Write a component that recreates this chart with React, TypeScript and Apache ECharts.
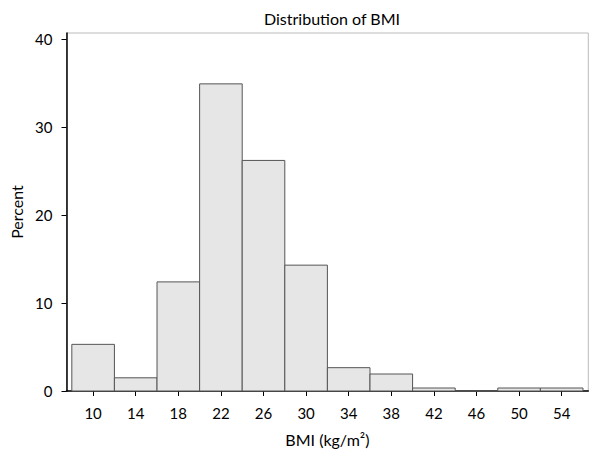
import React, { useEffect, useRef } from "react";
import * as echarts from "echarts";

const binStarts = [8, 12, 16, 20, 24, 28, 32, 36, 40, 44, 48, 52];
const binWidth = 4;
const percents = [5.3, 1.5, 12.4, 34.9, 26.2, 14.3, 2.65, 1.93, 0.34, 0, 0.34, 0.34];
const xTicks = [10, 14, 18, 22, 26, 30, 34, 38, 42, 46, 50, 54];
const yTicks = [0, 10, 20, 30, 40];

const FONT = "Lato";

export default function App() {
  const ref = useRef<HTMLDivElement>(null);
  useEffect(() => {
    const chart = echarts.init(ref.current!, null, { renderer: "svg" });
    const data = binStarts.map((s, i) => [s, s + binWidth, percents[i]]);
    chart.setOption({
      animation: false,
      backgroundColor: "#ffffff",
      title: {
        text: "Distribution of BMI",
        left: 327,
        textAlign: "center",
        top: 5,
        textStyle: { fontFamily: FONT, fontSize: 16, fontWeight: "normal", color: "#000" },
      },
      grid: {
        left: 66.5,
        right: 11.7,
        top: 33,
        bottom: 68,
        show: true,
        borderColor: "#bbbbbb",
        borderWidth: 1,
      },
      xAxis: {
        type: "value",
        min: 7.5,
        max: 56.5,
        name: "BMI (kg/m²)",
        nameLocation: "middle",
        nameGap: 40,
        nameTextStyle: { fontFamily: FONT, fontSize: 16, color: "#000" },
        axisLine: { show: true, lineStyle: { color: "#000", width: 1.5 } },
        axisTick: { show: true, customValues: xTicks, length: 5, lineStyle: { color: "#000" } },
        axisLabel: { customValues: xTicks, margin: 14, fontFamily: FONT, fontSize: 15, color: "#000" },
        splitLine: { show: false },
      },
      yAxis: {
        type: "value",
        min: 0,
        max: 40.68,
        name: "Percent",
        nameLocation: "middle",
        nameGap: 42,
        nameTextStyle: { fontFamily: FONT, fontSize: 16, color: "#000" },
        axisLine: { show: true, lineStyle: { color: "#000", width: 1.5 } },
        axisTick: { show: true, customValues: yTicks, length: 5, lineStyle: { color: "#000" } },
        axisLabel: { customValues: yTicks, margin: 14, fontFamily: FONT, fontSize: 15, color: "#000" },
        splitLine: { show: false },
      },
      series: [
        {
          type: "custom",
          data,
          encode: { x: [0, 1], y: 2 },
          renderItem: (params: any, api: any) => {
            const lo = api.value(0);
            const hi = api.value(1);
            const v = api.value(2);
            const p0 = api.coord([lo, v]);
            const p1 = api.coord([hi, 0]);
            return {
              type: "rect",
              shape: { x: p0[0], y: p0[1], width: p1[0] - p0[0], height: p1[1] - p0[1] },
              style: { fill: "#e6e6e6", stroke: "#555555", lineWidth: 1 },
            };
          },
        },
      ],
    });
    return () => chart.dispose();
  }, []);
  return <div ref={ref} style={{ width: 600, height: 459, position: "absolute", left: 0, top: 0 }} />;
}
